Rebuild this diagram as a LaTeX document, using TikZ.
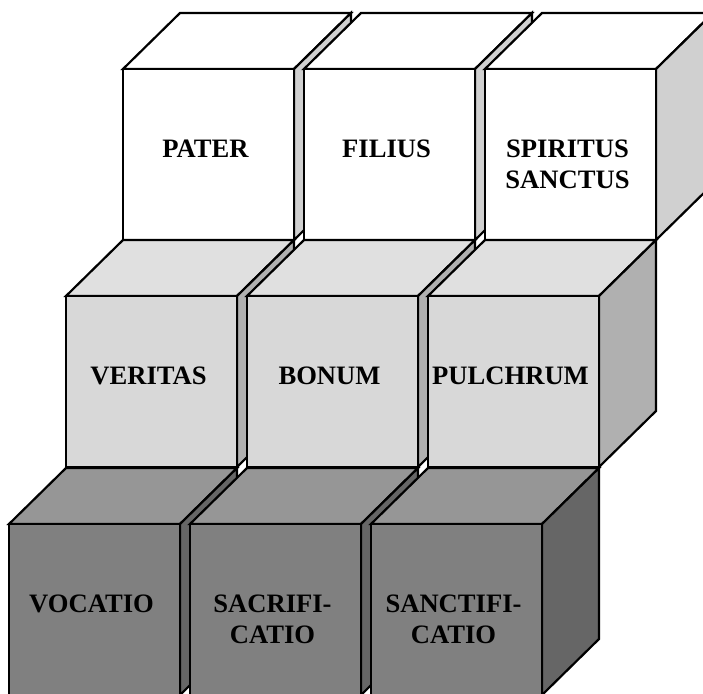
\documentclass[tikz,border=0pt]{standalone}
\usepackage{fontspec}
\setmainfont{Liberation Serif}
% shades for the three tiers of blocks
\definecolor{upTop}{HTML}{FFFFFF}
\definecolor{upSide}{HTML}{D0D0D0}
\definecolor{upFront}{HTML}{FFFFFF}
\definecolor{midTop}{HTML}{E0E0E0}
\definecolor{midSide}{HTML}{B0B0B0}
\definecolor{midFront}{HTML}{D8D8D8}
\definecolor{lowTop}{HTML}{969696}
\definecolor{lowSide}{HTML}{666666}
\definecolor{lowFront}{HTML}{808080}
\begin{document}
\begin{tikzpicture}[x=1pt,y=-1pt,line width=2.2pt,line join=miter,
  blockface/.style={draw=black},
  blocklabel/.style={font=\fontsize{26.6}{31}\selectfont\bfseries,
    align=center,anchor=base,inner sep=0pt}]
\useasboundingbox (0,0) rectangle (703,693);
\clip (0,0) rectangle (703,693);
% one block: #1,#2 = upper left corner of front face; #3 top, #4 side, #5 front colour;
% #8 = depth of the last text baseline below the front face's top edge
\newcommand\blockat[8]{%
  \filldraw[blockface,fill=#3] (#1,#2) -- ++(57,-56) -- ++(171,0) -- ++(-57,56) -- cycle;
  \filldraw[blockface,fill=#4] (#1+171,#2) -- ++(57,-56) -- ++(0,171) -- ++(-57,56) -- cycle;
  \filldraw[blockface,fill=#5] (#1,#2) rectangle ++(171,171);
  \node[blocklabel] (#6) at (#1+82.5,#2+#8) {#7};
}
% upper tier
\blockat{123}{69}{upTop}{upSide}{upFront}{pater}{PATER}{88}
\blockat{304}{69}{upTop}{upSide}{upFront}{filius}{FILIUS}{88}
\blockat{485}{69}{upTop}{upSide}{upFront}{spiritus}{SPIRITUS\\SANCTUS}{119}
% middle tier
\blockat{66}{296}{midTop}{midSide}{midFront}{veritas}{VERITAS}{88}
\blockat{247}{296}{midTop}{midSide}{midFront}{bonum}{BONUM}{88}
\blockat{428}{296}{midTop}{midSide}{midFront}{pulchrum}{PULCHRUM}{88}
% lower tier
\blockat{9}{524}{lowTop}{lowSide}{lowFront}{vocatio}{VOCATIO}{88}
\blockat{190}{524}{lowTop}{lowSide}{lowFront}{sacrificatio}{SACRIFI-\\CATIO}{119}
\blockat{371}{524}{lowTop}{lowSide}{lowFront}{sanctificatio}{SANCTIFI-\\CATIO}{119}
\end{tikzpicture}
\end{document}
